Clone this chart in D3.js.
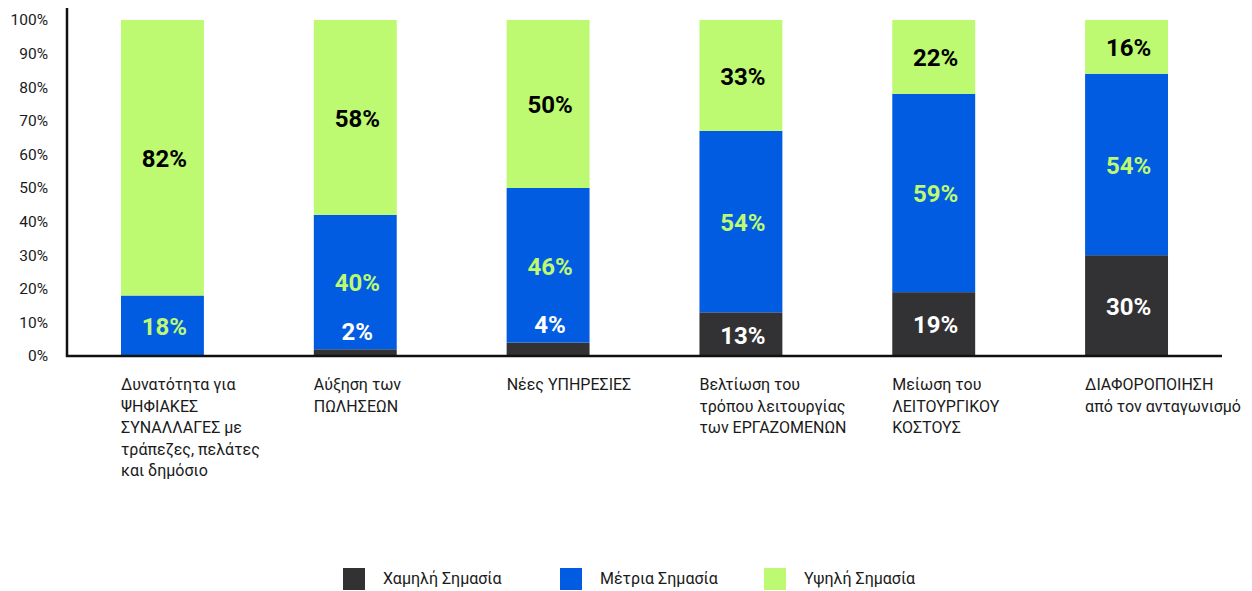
<!DOCTYPE html>
<html><head><meta charset="utf-8">
<script src="https://cdn.jsdelivr.net/npm/d3@7"></script>
<style>
html,body{margin:0;padding:0;background:#fff;}
svg{display:block;font-family:Roboto, "Noto Sans", sans-serif;}
</style></head>
<body><svg id="chart" width="1252" height="591"></svg>
<script>
const categories = [
  ["Δυνατότητα για","ΨΗΦΙΑΚΕΣ","ΣΥΝΑΛΛΑΓΕΣ με","τράπεζες, πελάτες","και δημόσιο"],
  ["Αύξηση των","ΠΩΛΗΣΕΩΝ"],
  ["Νέες ΥΠΗΡΕΣΙΕΣ"],
  ["Βελτίωση του","τρόπου λειτουργίας","των ΕΡΓΑΖΟΜΕΝΩΝ"],
  ["Μείωση του","ΛΕΙΤΟΥΡΓΙΚΟΥ","ΚΟΣΤΟΥΣ"],
  ["ΔΙΑΦΟΡΟΠΟΙΗΣΗ","από τον ανταγωνισμό"]
];
const seriesNames = ["Χαμηλή Σημασία","Μέτρια Σημασία","Υψηλή Σημασία"];
const lowValues    = [0, 2, 4, 13, 19, 30];
const mediumValues = [18, 40, 46, 54, 59, 54];
const highValues   = [82, 58, 50, 33, 22, 16];
const yTicks = [0,10,20,30,40,50,60,70,80,90,100];

const colors = ["#323234", "#025CE2", "#BDF971"];
const labelColors = ["#ffffff", "#BDF971", "#000000"];

const svg = d3.select("#chart");
const xLeft = 67, xRight = 1222, yBottom = 356, yTop = 20;

const rows = categories.map((c,i)=>({i, low:lowValues[i], medium:mediumValues[i], high:highValues[i]}));
const keys = ["low","medium","high"];
const stack = d3.stack().keys(keys)(rows);

const x = d3.scaleBand().domain(d3.range(categories.length)).range([xLeft, xRight])
  .paddingInner(0.57).paddingOuter(0.28);
const y = d3.scaleLinear().domain([0,100]).range([yBottom, yTop]);

// bars
stack.forEach((layer, k) => {
  svg.append("g").selectAll("rect").data(layer).join("rect")
    .attr("x", d => x(d.data.i))
    .attr("width", x.bandwidth())
    .attr("y", d => y(d[1]))
    .attr("height", d => y(d[0]) - y(d[1]))
    .attr("fill", colors[k]);
});

// value labels
stack.forEach((layer, k) => {
  svg.append("g").selectAll("text").data(layer.filter(d => d[1]-d[0] > 0)).join("text")
    .attr("x", d => x(d.data.i) + x.bandwidth()/2 + 2)
    .attr("y", d => {
      const v = d[1]-d[0];
      if (v < 6) return y(d[1]) - 16;
      return (y(d[0]) + y(d[1]))/2 + 3;
    })
    .attr("text-anchor","middle")
    .attr("dominant-baseline","middle")
    .attr("font-size", 24)
    .attr("font-weight", 700)
    .attr("fill", d => (k===0 && d[1]-d[0] < 6) ? "#ffffff" : labelColors[k])
    .text(d => (d[1]-d[0]) + "%");
});

// y axis
const yAxis = d3.axisLeft(y).tickValues(yTicks).tickFormat(d => d + "%").tickSize(0).tickPadding(19);
const yg = svg.append("g").attr("transform", `translate(${xLeft},0)`).call(yAxis);
yg.select(".domain").remove();
yg.selectAll("text").attr("font-size", 15.5).attr("fill", "#1a1a1a").attr("font-family","Roboto, sans-serif");
svg.append("line").attr("x1", xLeft).attr("x2", xLeft).attr("y1", 8).attr("y2", yBottom+1)
  .attr("stroke", "#111").attr("stroke-width", 2.5);

// x axis
const xAxis = d3.axisBottom(x).tickSize(0).tickFormat("");
const xg = svg.append("g").attr("transform", `translate(0,${yBottom})`).call(xAxis);
xg.select(".domain").attr("stroke", "#111").attr("stroke-width", 2.5)
  .attr("d", `M${xLeft-1},0H${xRight}`);

// category labels
categories.forEach((lines, i) => {
  const t = svg.append("text")
    .attr("x", x(i))
    .attr("y", 390)
    .attr("font-size", 16)
    .attr("fill", "#1a1a1a");
  lines.forEach((ln, j) => {
    t.append("tspan").attr("x", x(i)).attr("dy", j===0 ? 0 : 21.6).text(ln);
  });
});

// legend
const legendX = [343, 560, 764];
seriesNames.forEach((name, k) => {
  const g = svg.append("g").attr("transform", `translate(${legendX[k]},568)`);
  g.append("rect").attr("width", 22).attr("height", 22).attr("fill", colors[k]);
  g.append("text").attr("x", 40).attr("y", 12).attr("dominant-baseline","middle")
    .attr("font-size", 16).attr("fill", "#1a1a1a").text(name);
});
</script>
</body></html>
